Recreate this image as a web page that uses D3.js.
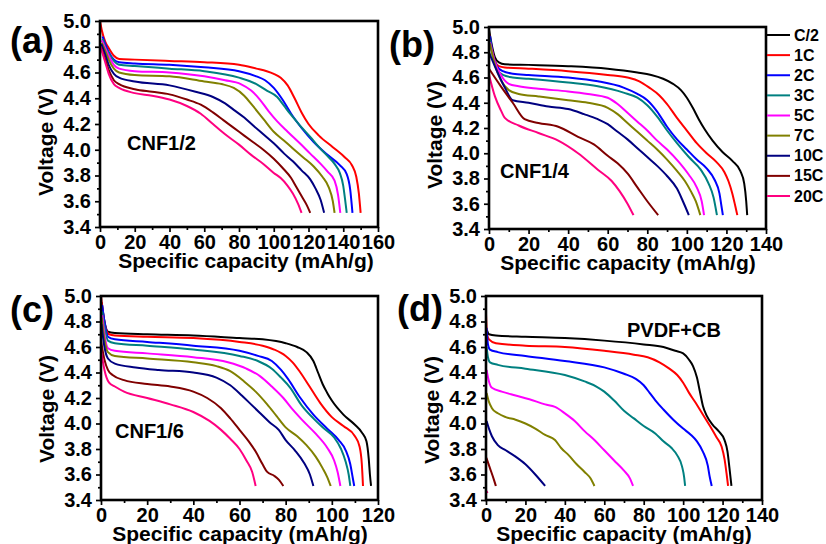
<!DOCTYPE html>
<html>
<head>
<meta charset="utf-8">
<script src="https://cdn.jsdelivr.net/npm/d3@7"></script>
<style>
body { margin: 0; background: #fff; }
svg text { font-family: "Liberation Sans", Arial, sans-serif; font-weight: bold; }
</style>
</head>
<body>
<svg id="drawing_region" width="826" height="544"></svg>
<script>
// C-rates and their line colours (legend order)
const rates = ["C/2", "1C", "2C", "3C", "5C", "7C", "10C", "15C", "20C"];
const rateColors = ["#000000", "#ff0000", "#0000ff", "#008080", "#ff00ff", "#808000", "#000080", "#800000", "#ff0080"];

const voltageMajor = [3.4, 3.6, 3.8, 4.0, 4.2, 4.4, 4.6, 4.8, 5.0];
const voltageMinor = [3.5, 3.7, 3.9, 4.1, 4.3, 4.5, 4.7, 4.9];

// (a) CNF1/2  [capacity mAh/g, voltage V]
const cnf12 = {
  "1C":  [[0,5.0],[1,4.93],[3,4.84],[5,4.79],[8,4.73],[11,4.705],[20,4.70],[40,4.69],[60,4.68],[80,4.66],[90,4.63],[96,4.61],[100,4.59],[104,4.56],[108,4.50],[112,4.40],[116,4.29],[120,4.20],[126,4.11],[134,4.02],[141,3.94],[145,3.88],[147.5,3.79],[149,3.66],[150,3.51]],
  "2C":  [[1.5,4.88],[3,4.82],[5,4.76],[8,4.70],[11,4.68],[20,4.67],[40,4.66],[60,4.64],[80,4.61],[90,4.57],[95,4.54],[100,4.48],[105,4.39],[110,4.28],[116,4.17],[123,4.06],[130,3.97],[138,3.88],[142,3.81],[144,3.69],[145.3,3.51]],
  "3C":  [[1.5,4.86],[3,4.80],[5,4.75],[8,4.69],[11,4.66],[20,4.65],[40,4.63],[60,4.61],[80,4.56],[90,4.51],[96,4.46],[102,4.41],[106,4.34],[110,4.27],[115,4.19],[121,4.10],[126,4.02],[131,3.95],[135,3.89],[138,3.82],[140,3.72],[141,3.62],[142,3.51]],
  "5C":  [[1,4.85],[3,4.79],[5,4.73],[8,4.66],[11,4.63],[20,4.61],[40,4.60],[60,4.57],[72,4.54],[81,4.51],[87,4.46],[92,4.39],[97,4.30],[102,4.22],[108,4.14],[115,4.05],[121,3.97],[127,3.89],[131,3.83],[135,3.76],[137,3.65],[138.3,3.51]],
  "7C":  [[1,4.83],[3,4.77],[5,4.70],[8,4.63],[11,4.60],[20,4.58],[40,4.57],[60,4.53],[70,4.51],[77,4.48],[83,4.42],[88,4.34],[94,4.24],[100,4.14],[106,4.07],[111,4.01],[117,3.94],[123,3.87],[128,3.79],[131.6,3.71],[134,3.60],[135,3.51]],
  "10C": [[0.8,4.82],[3,4.74],[5,4.66],[8,4.59],[11,4.56],[20,4.53],[40,4.50],[55,4.45],[65,4.41],[72,4.36],[77,4.31],[83,4.25],[88,4.19],[94,4.12],[100,4.05],[106,3.97],[111,3.91],[116,3.84],[121,3.77],[124,3.70],[127,3.61],[129,3.51]],
  "15C": [[0.5,4.80],[3,4.70],[5,4.62],[8,4.54],[11,4.51],[20,4.47],[30,4.45],[40,4.43],[50,4.39],[58,4.35],[65,4.29],[71,4.23],[77,4.17],[83,4.11],[88,4.06],[94,4.00],[100,3.93],[105,3.86],[110,3.78],[113,3.71],[116,3.64],[119,3.57],[121,3.51]],
  "20C": [[0.3,4.80],[3,4.68],[5,4.59],[8,4.51],[11,4.48],[20,4.44],[30,4.42],[40,4.39],[50,4.34],[58,4.28],[65,4.20],[72,4.12],[80,4.04],[87,3.96],[94,3.89],[100,3.82],[104,3.78],[108,3.72],[111,3.66],[114,3.58],[116,3.51]]
};

// (b) CNF1/4
const cnf14 = {
  "C/2": [[0,4.98],[1.5,4.85],[3,4.76],[5,4.72],[8,4.705],[20,4.70],[40,4.69],[60,4.67],[75,4.64],[82,4.62],[88,4.59],[93,4.55],[97,4.50],[100,4.44],[103,4.36],[106,4.27],[109,4.19],[113,4.10],[118,4.01],[123,3.94],[127,3.86],[129,3.76],[130,3.62],[130.5,3.51]],
  "1C":  [[0,4.95],[1.5,4.82],[3,4.73],[5,4.69],[8,4.68],[20,4.67],[40,4.65],[60,4.62],[70,4.60],[76,4.57],[81,4.52],[86,4.46],[90,4.39],[95,4.28],[100,4.18],[105,4.08],[110,4.00],[115,3.93],[119,3.85],[121,3.78],[123,3.68],[124.5,3.58],[125.5,3.51]],
  "2C":  [[0.5,4.93],[2,4.78],[4,4.69],[7,4.65],[12,4.63],[20,4.62],[40,4.60],[55,4.57],[68,4.52],[75,4.47],[80,4.42],[85,4.33],[90,4.21],[95,4.11],[100,4.03],[105,3.95],[110,3.88],[114,3.79],[116.5,3.68],[117.5,3.58],[118.2,3.51]],
  "3C":  [[0.5,4.90],[2,4.76],[4,4.67],[7,4.62],[12,4.60],[20,4.59],[40,4.56],[55,4.53],[68,4.48],[75,4.44],[80,4.38],[85,4.29],[90,4.18],[95,4.08],[101,3.97],[107,3.87],[111,3.76],[113.5,3.65],[115.2,3.51]],
  "5C":  [[0.5,4.88],[3,4.72],[6,4.62],[10,4.55],[15,4.53],[25,4.51],[40,4.49],[50,4.47],[60,4.44],[65,4.39],[70,4.32],[75,4.25],[80,4.18],[85,4.10],[90,4.03],[96,3.93],[101,3.83],[105,3.73],[107.5,3.62],[108.7,3.51]],
  "7C":  [[0.5,4.87],[3,4.70],[6,4.58],[10,4.50],[15,4.47],[25,4.45],[40,4.42],[50,4.40],[60,4.36],[65,4.31],[70,4.24],[75,4.17],[80,4.10],[85,4.03],[90,3.95],[95,3.86],[99,3.78],[102,3.70],[104.5,3.62],[106.8,3.51]],
  "10C": [[0,4.80],[4,4.65],[8,4.52],[12,4.42],[20,4.40],[30,4.37],[40,4.35],[48,4.31],[55,4.27],[60,4.23],[65,4.17],[70,4.11],[75,4.04],[80,3.97],[85,3.90],[90,3.82],[95,3.72],[98,3.62],[101,3.51]],
  "15C": [[0,4.67],[6,4.53],[12,4.40],[18,4.27],[25,4.24],[35,4.21],[45,4.13],[53,4.07],[60,3.98],[65,3.92],[70,3.84],[75,3.73],[80,3.62],[85.5,3.51]],
  "20C": [[0,4.62],[3,4.45],[6,4.34],[8,4.28],[15,4.22],[25,4.16],[35,4.10],[45,4.00],[55,3.87],[62,3.78],[66,3.70],[70,3.60],[73,3.51]]
};

// (c) CNF1/6
const cnf16 = {
  "C/2": [[0.3,4.95],[1.5,4.80],[3,4.72],[6,4.71],[20,4.70],[40,4.69],[60,4.67],[70,4.66],[80,4.63],[85,4.60],[89,4.56],[92,4.49],[94,4.40],[96,4.31],[98,4.24],[100,4.18],[105,4.07],[110,3.99],[113,3.93],[115,3.86],[116,3.72],[116.5,3.60],[117,3.51]],
  "1C":  [[0,5.0],[1,4.85],[2,4.75],[3.5,4.70],[6,4.69],[20,4.68],[40,4.67],[60,4.64],[70,4.61],[75,4.58],[80,4.53],[83,4.48],[86,4.41],[90,4.30],[95,4.16],[100,4.05],[105,3.98],[110,3.90],[112,3.82],[113,3.68],[113.5,3.51]],
  "2C":  [[0.5,4.93],[1.5,4.80],[3,4.68],[6,4.66],[20,4.64],[40,4.61],[60,4.57],[68,4.53],[74,4.49],[78,4.42],[81,4.35],[86,4.21],[92,4.07],[98,3.96],[103,3.87],[106,3.79],[108,3.68],[109,3.58],[109.7,3.51]],
  "3C":  [[0.5,4.88],[1.5,4.76],[3,4.65],[6,4.63],[20,4.61],[40,4.58],[60,4.53],[68,4.49],[74,4.43],[78,4.36],[82,4.28],[87,4.14],[92,4.04],[96,3.97],[101,3.89],[104,3.80],[106,3.70],[107.3,3.60],[108,3.51]],
  "5C":  [[0.5,4.85],[1.5,4.70],[3,4.59],[6,4.57],[20,4.55],[40,4.52],[55,4.48],[63,4.43],[69,4.37],[74,4.29],[79,4.20],[83,4.11],[87,4.03],[93,3.92],[98,3.81],[101,3.71],[102.5,3.62],[103.7,3.51]],
  "7C":  [[0.3,4.83],[1.5,4.66],[3,4.56],[6,4.53],[20,4.51],[40,4.48],[50,4.45],[56,4.41],[62,4.33],[67,4.25],[72,4.15],[76,4.06],[80,3.97],[85,3.90],[89,3.83],[93,3.74],[96,3.65],[98,3.58],[99.5,3.51]],
  "10C": [[0.2,4.78],[1.5,4.60],[3,4.51],[6,4.47],[15,4.44],[25,4.42],[40,4.40],[50,4.36],[56,4.30],[61,4.22],[65,4.15],[69,4.08],[73,4.01],[77,3.95],[80,3.87],[84,3.79],[88,3.69],[90.5,3.60],[92,3.51]],
  "15C": [[0,4.65],[1.5,4.50],[3,4.42],[5,4.38],[10,4.34],[20,4.31],[30,4.29],[40,4.25],[46,4.20],[52,4.12],[56,4.04],[60,3.95],[64,3.86],[67,3.78],[70,3.68],[72,3.62],[75,3.59],[77,3.56],[79,3.51]],
  "20C": [[0,4.58],[1.5,4.42],[3.5,4.32],[6,4.29],[10,4.25],[20,4.20],[30,4.15],[40,4.09],[47,4.02],[52,3.95],[56,3.88],[60,3.80],[63,3.71],[65.5,3.62],[67,3.51]]
};

// (d) PVDF+CB
const pvdfcb = {
  "C/2": [[0.5,4.73],[1.5,4.70],[5,4.69],[20,4.68],[40,4.67],[60,4.65],[80,4.62],[90,4.60],[96,4.57],[100,4.55],[103,4.50],[105,4.45],[107,4.36],[108.5,4.25],[110,4.14],[112,4.06],[115,3.99],[118,3.94],[121,3.87],[122.5,3.78],[123.5,3.65],[124.5,3.51]],
  "1C":  [[0,4.86],[0.5,4.70],[1.5,4.66],[5,4.63],[20,4.61],[40,4.60],[60,4.57],[75,4.54],[82,4.52],[88,4.48],[93,4.43],[97,4.38],[100,4.32],[103,4.24],[106,4.17],[110,4.07],[114,3.97],[117,3.89],[119.5,3.82],[121,3.72],[122,3.61],[122.8,3.51]],
  "2C":  [[0.3,4.75],[1,4.62],[2,4.58],[6,4.56],[20,4.53],[40,4.49],[60,4.44],[70,4.39],[76,4.35],[80,4.30],[83,4.24],[86,4.18],[90,4.11],[95,4.03],[100,3.96],[104,3.91],[107,3.86],[110,3.78],[112.5,3.67],[113.5,3.58],[114.5,3.51]],
  "3C":  [[0.3,4.60],[1,4.52],[2,4.48],[6,4.46],[20,4.43],[40,4.38],[50,4.33],[56,4.29],[60,4.25],[65,4.18],[70,4.10],[75,4.04],[80,3.98],[86,3.92],[90,3.86],[94,3.81],[97,3.75],[99.5,3.66],[100.5,3.58],[101,3.51]],
  "5C":  [[0.3,4.42],[1.5,4.33],[3,4.28],[8,4.25],[15,4.22],[22,4.19],[30,4.15],[35,4.13],[40,4.08],[45,4.02],[50,3.94],[55,3.87],[60,3.79],[65,3.71],[70,3.63],[73,3.57],[74.6,3.51]],
  "7C":  [[0.3,4.24],[1.5,4.17],[3,4.12],[6,4.08],[10,4.05],[15,4.03],[20,4.00],[25,3.96],[30,3.91],[35,3.87],[38,3.81],[42,3.75],[46,3.68],[50,3.62],[53,3.57],[55,3.51]],
  "10C": [[0.3,4.02],[1.5,3.96],[3,3.90],[6,3.83],[10,3.79],[15,3.74],[20,3.68],[25,3.60],[30,3.51]],
  "15C": [[0.2,3.73],[2,3.65],[4,3.56],[5,3.51]],
  "20C": [[0.2,3.47],[0.8,3.455]]
};

const svg = d3.select('#drawing_region');

class DischargePlot {

    constructor( config, curves ) {
        this.config = config;
        this.curves = curves;
        this.init();
    }

    init() {
        let self = this;
        const c = self.config;

        self.chart = svg.append('g')
            .attr('transform', `translate(${c.left}, ${c.top})`);

        self.xscale = d3.scaleLinear()
            .domain( [0, c.xmax] )
            .range( [0, c.width] );

        self.yscale = d3.scaleLinear()
            .domain( [3.4, 5.0] )
            .range( [c.height, 0] );

        self.line = d3.line()
            .x( d => self.xscale( d[0] ) )
            .y( d => self.yscale( d[1] ) )
            .curve( d3.curveMonotoneX );
    }

    render() {
        let self = this;
        const c = self.config;

        const xmajor = d3.range( 0, c.xmax + 1, 20 );
        const xminor = d3.range( 10, c.xmax, 20 );

        // axes (ticks outside, left and bottom only)
        const xg = self.chart.append('g')
            .attr('transform', `translate(0, ${c.height})`)
            .call( d3.axisBottom( self.xscale ).tickValues( xmajor ).tickSize(5).tickPadding(3).tickFormat( d3.format('d') ) );
        const xg2 = self.chart.append('g')
            .attr('transform', `translate(0, ${c.height})`)
            .call( d3.axisBottom( self.xscale ).tickValues( xminor ).tickSize(3).tickFormat('') );
        const yg = self.chart.append('g')
            .call( d3.axisLeft( self.yscale ).tickValues( voltageMajor ).tickSize(5).tickPadding(4).tickFormat( d3.format('.1f') ) );
        const yg2 = self.chart.append('g')
            .call( d3.axisLeft( self.yscale ).tickValues( voltageMinor ).tickSize(3).tickFormat('') );

        [xg, xg2, yg, yg2].forEach( g => {
            g.select('.domain').remove();
            g.attr('font-size', 20).attr('font-family', null);
            g.selectAll('line').attr('stroke-width', 1.7);
        });

        // curves
        rates.forEach( (r, i) => {
            if ( !self.curves[r] ) return;
            self.chart.append('path')
                .datum( self.curves[r] )
                .attr('fill', 'none')
                .attr('stroke', rateColors[i])
                .attr('stroke-width', 2)
                .attr('stroke-linejoin', 'round')
                .attr('d', self.line);
        });

        // frame
        self.chart.append('rect')
            .attr('width', c.width)
            .attr('height', c.height)
            .attr('fill', 'none')
            .attr('stroke', '#000')
            .attr('stroke-width', 2.6);

        // titles and labels
        svg.append('text')
            .attr('x', c.xtitleX)
            .attr('y', c.top + c.height + 41)
            .attr('text-anchor', 'middle')
            .attr('font-size', '21px')
            .text('Specific capacity (mAh/g)');

        svg.append('text')
            .attr('transform', `translate(${c.left - 47}, ${c.ytitleY}) rotate(-90)`)
            .attr('text-anchor', 'middle')
            .attr('font-size', '21px')
            .text('Voltage (V)');

        svg.append('text')
            .attr('x', c.tagX)
            .attr('y', c.tagY)
            .attr('font-size', '36px')
            .text(c.tag);

        svg.append('text')
            .attr('x', c.noteX)
            .attr('y', c.noteY)
            .attr('font-size', '20px')
            .text(c.note);
    }
}

const panels = [
    [{ left:100, top:21, width:278, height:206, xmax:160, xtitleX:246, ytitleY:142, tag:'(a)', tagX:10, tagY:53, note:'CNF1/2', noteX:127, noteY:150 }, cnf12],
    [{ left:489, top:27, width:277, height:202, xmax:140, xtitleX:628, ytitleY:135, tag:'(b)', tagX:389, tagY:57, note:'CNF1/4', noteX:500, noteY:178 }, cnf14],
    [{ left:101, top:296, width:277, height:204, xmax:120, xtitleX:240, ytitleY:409, tag:'(c)', tagX:10, tagY:322, note:'CNF1/6', noteX:115, noteY:438 }, cnf16],
    [{ left:486, top:296, width:276, height:204, xmax:140, xtitleX:624, ytitleY:410, tag:'(d)', tagX:397, tagY:321, note:'PVDF+CB', noteX:627, noteY:337 }, pvdfcb]
];

panels.forEach( p => {
    const plot = new DischargePlot( p[0], p[1] );
    plot.render();
});

// legend beside panel (b)
const legend = svg.append('g');
const legendY = d3.scalePoint().domain( rates ).range( [35, 196] );
rates.forEach( (r, i) => {
    legend.append('line')
        .attr('x1', 767).attr('x2', 790)
        .attr('y1', legendY(r)).attr('y2', legendY(r))
        .attr('stroke', rateColors[i])
        .attr('stroke-width', 2);
    legend.append('text')
        .attr('x', 794)
        .attr('y', legendY(r))
        .attr('dy', '0.35em')
        .attr('font-size', '16px')
        .text(r);
});
</script>
</body>
</html>
